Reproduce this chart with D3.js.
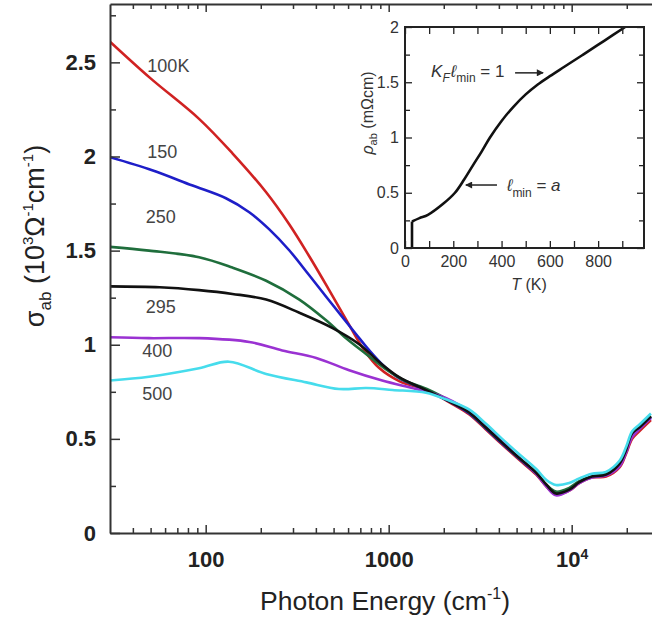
<!DOCTYPE html>
<html>
<head>
<meta charset="utf-8">
<script src="https://cdn.jsdelivr.net/npm/d3@7"></script>
<style>
  body { margin: 0; background: #fff; }
  svg { display: block; font-family: "Liberation Sans", Arial, "DejaVu Sans", sans-serif; }
</style>
</head>
<body>
<div id="chart"></div>
<script>
// main panel: sigma_ab vs photon energy, one curve per temperature
var tempLabels = ['100K', '150', '250', '295', '400', '500'];

var sigma100K = [[30,2.61],[50,2.415],[92,2.20],[140,2.017],[214,1.81],[286,1.64],[368,1.47],[473,1.29],[609,1.104],[735,0.971],[888,0.876],[1140,0.807],[1660,0.754],
  [2230,0.685],[2760,0.63],[3400,0.55],[4170,0.47],[5150,0.39],[6400,0.31],[7300,0.245],[8200,0.205],[9700,0.225],[11000,0.265],[12900,0.295],[15400,0.30],[18300,0.35],[19800,0.42],[21400,0.50],[23400,0.54],[27100,0.60]];
var sigma150K = [[30,1.996],[51,1.927],[84,1.847],[129,1.778],[173,1.704],[222,1.614],[286,1.502],[368,1.369],[491,1.215],[664,1.056],[782,0.971],[944,0.886],[1140,0.823],[1600,0.759],
  [2230,0.69],[2760,0.635],[3400,0.555],[4170,0.475],[5150,0.395],[6400,0.315],[7300,0.25],[8200,0.215],[9700,0.235],[11000,0.27],[12900,0.30],[15400,0.31],[18300,0.365],[19800,0.435],[21400,0.52],[23400,0.555],[27100,0.615]];
var sigma250K = [[30,1.52],[49,1.50],[92,1.465],[140,1.41],[214,1.34],[325,1.24],[455,1.13],[585,1.035],[755,0.95],[947,0.876],[1220,0.81],[1660,0.76],
  [2230,0.695],[2760,0.64],[3400,0.56],[4170,0.48],[5150,0.40],[6400,0.32],[7300,0.255],[8200,0.22],[9700,0.24],[11000,0.275],[12900,0.30],[15400,0.315],[18300,0.37],[19800,0.44],[21400,0.525],[23400,0.56],[27100,0.62]];
var sigma295K = [[30,1.31],[56,1.305],[92,1.29],[140,1.27],[214,1.24],[325,1.17],[491,1.09],[690,1.003],[888,0.908],[1140,0.828],[1600,0.759],
  [2230,0.69],[2760,0.64],[3400,0.56],[4170,0.48],[5150,0.40],[6400,0.32],[7300,0.255],[8200,0.21],[9700,0.23],[11000,0.27],[12900,0.30],[15400,0.31],[18300,0.37],[19800,0.44],[21400,0.53],[23400,0.56],[27100,0.62]];
var sigma400K = [[30,1.04],[49,1.035],[92,1.035],[173,1.015],[262,0.97],[402,0.93],[608,0.865],[922,0.81],[1410,0.765],[1890,0.73],
  [2230,0.70],[2760,0.645],[3400,0.565],[4170,0.485],[5150,0.40],[6400,0.315],[7300,0.245],[8200,0.20],[9700,0.225],[11000,0.265],[12900,0.295],[15400,0.305],[18300,0.355],[19800,0.425],[21400,0.51],[23400,0.55],[27100,0.61]];
var sigma500K = [[30,0.81],[49,0.83],[92,0.875],[134,0.91],[214,0.845],[355,0.80],[535,0.765],[755,0.77],[1050,0.76],[1600,0.745],[2050,0.71],
  [2760,0.655],[3400,0.58],[4170,0.50],[5150,0.42],[6400,0.34],[7300,0.28],[8200,0.255],[9700,0.265],[11000,0.29],[12900,0.315],[15400,0.325],[18300,0.385],[19800,0.455],[21400,0.54],[23400,0.575],[27100,0.635]];

var energyMajor = [100, 1000, 10000];
var energyMinor = [40,50,60,70,80,90,200,300,400,500,600,700,800,900,2000,3000,4000,5000,6000,7000,8000,9000,20000];
var sigmaMajor = [0, 0.5, 1, 1.5, 2, 2.5];
var sigmaMinor = [0.25, 0.75, 1.25, 1.75, 2.25, 2.75];

// inset: rho_ab vs T
var rhoJump = [[29,0],[29,0.24]];
var rhoT = [[29,0.24],[60,0.27],[95,0.30],[158,0.40],[207,0.50],[245,0.62],[282,0.75],[318,0.875],[352,1.0],[400,1.15],[450,1.28],[500,1.39],[550,1.48],[600,1.555],[660,1.64],[738,1.75],[825,1.875],[912,2.0]];
var tMajor = [0, 200, 400, 600, 800];
var tMinor = [100, 300, 500, 700, 900];
var rhoMajor = [0, 0.5, 1, 1.5, 2];
var rhoMinor = [0.25, 0.75, 1.25, 1.75];

var w = 652, h = 622;
var svg = d3.select('#chart').append('svg').attr('width', w).attr('height', h);
svg.append('rect').attr('width', w).attr('height', h).attr('fill', '#fff');

var x = d3.scaleLog().domain([30, 30000]).range([110, 659]);
var y = d3.scaleLinear().domain([0, 2.81]).range([533, 4]);

svg.append('clipPath').attr('id', 'plotClip')
  .append('rect').attr('x', 110).attr('y', 4).attr('width', 549).attr('height', 529);

var series = [
  {data: sigma100K, color: '#d02222', labelE: 48, labelS: 2.447, label: 0},
  {data: sigma150K, color: '#1e1ec8', labelE: 48, labelS: 1.99, label: 1},
  {data: sigma250K, color: '#1f6e3c', labelE: 47, labelS: 1.645, label: 2},
  {data: sigma400K, color: '#9a32d2', labelE: 45, labelS: 0.934, label: 4},
  {data: sigma295K, color: '#111111', labelE: 47, labelS: 1.168, label: 3},
  {data: sigma500K, color: '#46dcec', labelE: 45, labelS: 0.706, label: 5}
];

var line = d3.line()
  .x(d => x(d[0]))
  .y(d => y(d[1]))
  .curve(d3.curveCatmullRom.alpha(0.5));

var curves = svg.append('g').attr('clip-path', 'url(#plotClip)');
series.forEach(function(s) {
  curves.append('path')
    .attr('d', line(s.data))
    .attr('fill', 'none')
    .attr('stroke', s.color)
    .attr('stroke-width', 2.6)
    .attr('stroke-linejoin', 'round');
});

// temperature labels
series.forEach(function(s) {
  svg.append('text')
    .attr('x', x(s.labelE))
    .attr('y', y(s.labelS))
    .attr('font-size', 18)
    .attr('fill', '#444')
    .text(tempLabels[s.label]);
});

function styleAxis(g) {
  g.attr('color', '#333').attr('font-family', null).attr('font-size', null);
  g.selectAll('.domain').attr('stroke-width', 2);
  g.selectAll('.tick line').attr('stroke-width', 1.5);
}

// bottom
var bx = svg.append('g').attr('transform', 'translate(0,533)')
  .call(d3.axisBottom(x).tickValues(energyMajor).tickSize(-8).tickSizeOuter(0).tickPadding(18)
    .tickFormat(d => d === 10000 ? '' : String(d)));
styleAxis(bx);
bx.selectAll('text').attr('font-size', 22).attr('font-weight', 'bold').attr('fill', '#222');
var t4 = bx.selectAll('.tick').filter(d => d === 10000).select('text');
t4.append('tspan').text('10');
t4.append('tspan').attr('dy', '-0.55em').attr('font-size', 14).text('4');
svg.append('g').attr('transform', 'translate(0,533)')
  .call(d3.axisBottom(x).tickValues(energyMinor).tickSize(-5).tickSizeOuter(0).tickFormat(''))
  .call(styleAxis).call(g => g.select('.domain').remove());

// top
svg.append('g').attr('transform', 'translate(0,4)')
  .call(d3.axisTop(x).tickValues(energyMajor).tickSize(-8).tickSizeOuter(0).tickFormat(''))
  .call(styleAxis);
svg.append('g').attr('transform', 'translate(0,4)')
  .call(d3.axisTop(x).tickValues(energyMinor).tickSize(-5).tickSizeOuter(0).tickFormat(''))
  .call(styleAxis).call(g => g.select('.domain').remove());

// left
var ly = svg.append('g').attr('transform', 'translate(110,0)')
  .call(d3.axisLeft(y).tickValues(sigmaMajor).tickSize(-10).tickSizeOuter(0).tickPadding(14)
    .tickFormat(d => String(d)));
styleAxis(ly);
ly.selectAll('text').attr('font-size', 22).attr('font-weight', 'bold').attr('fill', '#222');
svg.append('g').attr('transform', 'translate(110,0)')
  .call(d3.axisLeft(y).tickValues(sigmaMinor).tickSize(-6).tickSizeOuter(0).tickFormat(''))
  .call(styleAxis).call(g => g.select('.domain').remove());

// axis titles
var xt = svg.append('text').attr('x', 385).attr('y', 610).attr('text-anchor', 'middle')
  .attr('font-size', 26.5).attr('fill', '#222');
xt.append('tspan').text('Photon Energy (cm');
xt.append('tspan').attr('dy', -11).attr('font-size', 16).text('-1');
xt.append('tspan').attr('dy', 11).text(')');

var yt = svg.append('text').attr('transform', 'translate(44,236) rotate(-90)')
  .attr('text-anchor', 'middle').attr('font-size', 27).attr('fill', '#222');
yt.append('tspan').text('σ');
yt.append('tspan').attr('dy', 7).attr('font-size', 17).text('ab');
yt.append('tspan').attr('dy', -7).text(' (10');
yt.append('tspan').attr('dy', -11).attr('font-size', 15).text('3');
yt.append('tspan').attr('dy', 11).text('Ω');
yt.append('tspan').attr('dy', -11).attr('font-size', 15).text('-1');
yt.append('tspan').attr('dy', 11).text('cm');
yt.append('tspan').attr('dy', -11).attr('font-size', 15).text('-1');
yt.append('tspan').attr('dy', 11).text(')');

// ---------- inset ----------
var xi = d3.scaleLinear().domain([0, 990]).range([405, 644]);
var yi = d3.scaleLinear().domain([0, 2]).range([248, 27]);
var inset = svg.append('g');
inset.append('rect').attr('x', 405).attr('y', 27).attr('width', 239).attr('height', 221).attr('fill', '#fff');

var rhoLine = d3.line().x(d => xi(d[0])).y(d => yi(d[1]));
inset.append('path')
  .attr('d', rhoLine(rhoJump))
  .attr('fill', 'none').attr('stroke', '#111').attr('stroke-width', 2.6);
inset.append('path')
  .attr('d', rhoLine.curve(d3.curveCatmullRom.alpha(0.5))(rhoT))
  .attr('fill', 'none').attr('stroke', '#111').attr('stroke-width', 2.6).attr('stroke-linejoin', 'round');

function styleInset(g) {
  g.attr('color', '#222').attr('font-family', null).attr('font-size', null);
  g.selectAll('.tick line').attr('stroke-width', 1.3);
  g.select('.domain').remove();
}
var ib = inset.append('g').attr('transform', 'translate(0,248)')
  .call(d3.axisBottom(xi).tickValues(tMajor).tickSize(-7).tickPadding(8).tickFormat(d => String(d)))
  .call(styleInset);
ib.selectAll('text').attr('font-size', 16).attr('fill', '#333');
inset.append('g').attr('transform', 'translate(0,248)')
  .call(d3.axisBottom(xi).tickValues(tMinor).tickSize(-7).tickFormat('')).call(styleInset);
inset.append('g').attr('transform', 'translate(0,27)')
  .call(d3.axisTop(xi).tickValues(tMajor.concat(tMinor)).tickSize(-7).tickFormat('')).call(styleInset);
var il = inset.append('g').attr('transform', 'translate(405,0)')
  .call(d3.axisLeft(yi).tickValues(rhoMajor).tickSize(-7).tickPadding(6).tickFormat(d => String(d)))
  .call(styleInset);
il.selectAll('text').attr('font-size', 16).attr('fill', '#333');
inset.append('g').attr('transform', 'translate(405,0)')
  .call(d3.axisLeft(yi).tickValues(rhoMinor).tickSize(-5).tickFormat('')).call(styleInset);
inset.append('g').attr('transform', 'translate(644,0)')
  .call(d3.axisRight(yi).tickValues(rhoMajor).tickSize(-7).tickFormat('')).call(styleInset);
inset.append('g').attr('transform', 'translate(644,0)')
  .call(d3.axisRight(yi).tickValues(rhoMinor).tickSize(-5).tickFormat('')).call(styleInset);

inset.append('rect').attr('x', 405).attr('y', 27).attr('width', 239).attr('height', 221)
  .attr('fill', 'none').attr('stroke', '#222').attr('stroke-width', 2);

var it = inset.append('text').attr('x', 529).attr('y', 290).attr('text-anchor', 'middle')
  .attr('font-size', 16).attr('fill', '#333');
it.append('tspan').attr('font-style', 'italic').text('T');
it.append('tspan').text(' (K)');

var iy = inset.append('text').attr('transform', 'translate(373,113) rotate(-90)')
  .attr('text-anchor', 'middle').attr('font-size', 16).attr('fill', '#333');
iy.append('tspan').attr('font-style', 'italic').text('ρ');
iy.append('tspan').attr('dy', 4).attr('font-size', 11).text('ab');
iy.append('tspan').attr('dy', -4).text(' (mΩcm)');

// annotations
var defs = svg.append('defs');
defs.append('marker').attr('id', 'arrow').attr('viewBox', '0 0 10 10')
  .attr('refX', 9).attr('refY', 5).attr('markerWidth', 9).attr('markerHeight', 7)
  .attr('markerUnits', 'userSpaceOnUse').attr('orient', 'auto')
  .append('path').attr('d', 'M0,0L10,5L0,10z').attr('fill', '#222');

inset.append('line')
  .attr('x1', xi(456)).attr('y1', yi(1.585)).attr('x2', xi(572)).attr('y2', yi(1.585))
  .attr('stroke', '#222').attr('stroke-width', 1.5).attr('marker-end', 'url(#arrow)');
inset.append('line')
  .attr('x1', xi(381)).attr('y1', yi(0.57)).attr('x2', xi(252)).attr('y2', yi(0.57))
  .attr('stroke', '#222').attr('stroke-width', 1.5).attr('marker-end', 'url(#arrow)');

var a1 = inset.append('text').attr('x', xi(108)).attr('y', yi(1.545)).attr('font-size', 17).attr('fill', '#333');
a1.append('tspan').attr('font-style', 'italic').text('K');
a1.append('tspan').attr('dy', 5).attr('font-size', 12).attr('font-style', 'italic').text('F');
a1.append('tspan').attr('dy', -5).attr('dx', 1).attr('font-style', 'italic').text('ℓ');
a1.append('tspan').attr('dy', 5).attr('font-size', 12).text('min');
a1.append('tspan').attr('dy', -5).text(' = 1');

var a2 = inset.append('text').attr('x', xi(422)).attr('y', yi(0.52)).attr('font-size', 17).attr('fill', '#333');
a2.append('tspan').attr('font-style', 'italic').text('ℓ');
a2.append('tspan').attr('dy', 6).attr('font-size', 12).text('min');
a2.append('tspan').attr('dy', -6).text(' = ');
a2.append('tspan').attr('font-style', 'italic').text('a');
</script>
</body>
</html>
